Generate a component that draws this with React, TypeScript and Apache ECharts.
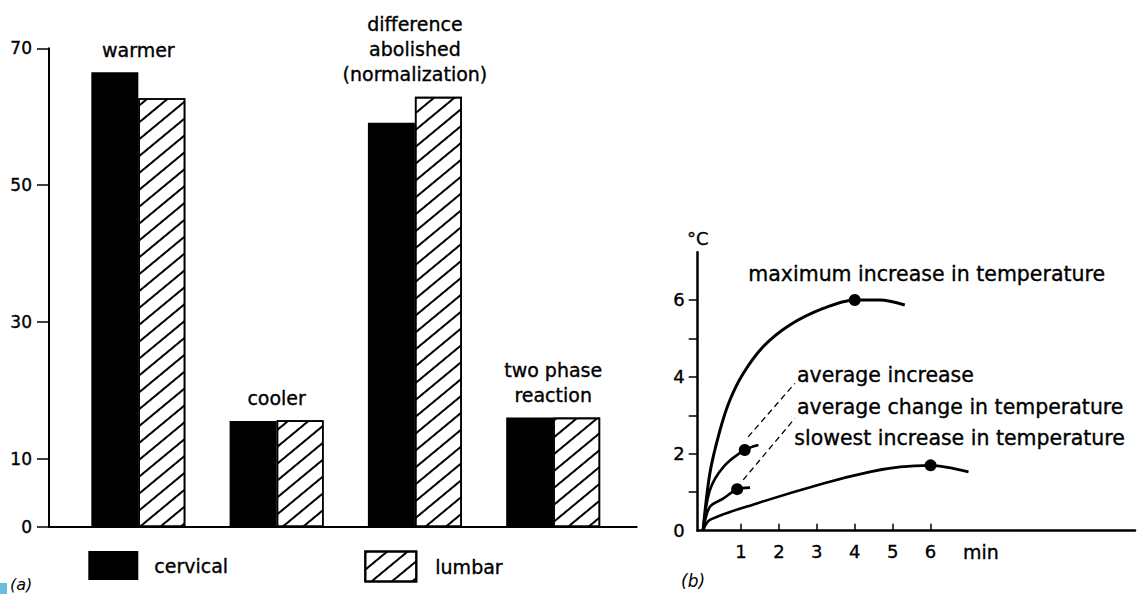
import React, { useEffect, useRef } from 'react';
import * as echarts from 'echarts';

// ---------- Panel (a) data ----------
const categories = ['warmer', 'cooler', 'difference\nabolished\n(normalization)', 'two phase\nreaction'];
const categoryPositions = [1, 2, 3, 4];
const cervical = [66.5, 15.5, 59.1, 16.0];
const lumbar = [62.7, 15.6, 62.9, 16.0];
const yTicksA = [0, 10, 30, 50, 70];

// ---------- Panel (b) data ----------
const maxIncrease = [[0, 0], [0.18, 1.49], [0.45, 2.62], [0.71, 3.4], [1.06, 4.09], [1.59, 4.79], [2.29, 5.35], [3.17, 5.78], [4, 6], [4.67, 6.0], [5.32, 5.87]];
const averageIncrease = [[0, 0], [0.18, 1.05], [0.54, 1.66], [1.1, 2.1], [1.46, 2.23]];
const averageChange = [[0, 0], [0.18, 0.62], [0.54, 0.84], [0.9, 1.08], [1.24, 1.12]];
const slowestIncrease = [[0, 0], [0.18, 0.28], [1.42, 0.71], [3.17, 1.23], [4.4, 1.53], [5.2, 1.66], [6, 1.7], [7, 1.53]];
const markedPoints = [[4, 6], [1.1, 2.1], [0.9, 1.08], [6, 1.7]];
const leaderIncrease = [[1.19, 2.44], [2.42, 3.83]];
const leaderChange = [[1.06, 1.32], [2.42, 2.92]];
const xTicksB = [1, 2, 3, 4, 5, 6];
const yTicksB = [1, 2, 3, 4, 5, 6];
const yLabelsB = [0, 2, 4, 6];

const FONT = 'DejaVu Sans';
const INK = '#000';

export default function App() {
  const ref = useRef<HTMLDivElement>(null);
  useEffect(() => {
    if (!ref.current) return;
    const chart = echarts.init(ref.current, null, { renderer: 'svg' });
    const pairTops = categoryPositions.map((_, i) => Math.max(cervical[i], lumbar[i]));
    const hatch = {
      symbol: 'rect',
      symbolSize: 1,
      dashArrayX: [20, 0],
      dashArrayY: [1.6, 11],
      rotation: -Math.PI * 0.22,
      color: INK,
      backgroundColor: '#fff',
    };
    const ink = { textBorderColor: INK, textBorderWidth: 0.35 };
    const curve = (data: number[][], width: number) => ({
      type: 'line',
      xAxisIndex: 1,
      yAxisIndex: 1,
      data,
      smooth: 0.3,
      showSymbol: false,
      symbol: 'none',
      lineStyle: { color: INK, width },
      silent: true,
    });
    const leader = (data: number[][]) => ({
      type: 'line',
      xAxisIndex: 1,
      yAxisIndex: 1,
      data,
      symbol: 'none',
      lineStyle: { color: INK, width: 1.3, type: [6, 4] },
      silent: true,
    });
    const annot = (text: string, x: number, y: number) => ({
      type: 'text',
      x,
      y,
      style: { text, fill: INK, stroke: INK, lineWidth: 0.35, font: `20.5px "${FONT}"`, verticalAlign: 'middle', align: 'left' },
    });
    chart.setOption({
      animation: false,
      backgroundColor: '#fff',
      textStyle: { fontFamily: FONT, color: INK },
      grid: [
        { left: 49, top: 48.3, width: 587.7, height: 478.7 },
        { left: 697.7, top: 252.3, width: 437.3, height: 278.4 },
      ],
      xAxis: [
        {
          type: 'value', gridIndex: 0, min: 0.354, max: 4.604,
          axisLine: { show: true, lineStyle: { color: INK, width: 2 } },
          axisTick: { show: false }, axisLabel: { show: false }, splitLine: { show: false },
        },
        {
          type: 'value', gridIndex: 1, min: -0.14, max: 11.39,
          axisLine: { show: true, lineStyle: { color: INK, width: 2.5 } },
          axisTick: { show: true, inside: true, length: 7, customValues: xTicksB, lineStyle: { color: INK, width: 1.5 } },
          axisLabel: { show: true, customValues: xTicksB, fontSize: 18, margin: 12, color: INK, fontFamily: FONT, ...ink },
          splitLine: { show: false },
        },
      ],
      yAxis: [
        {
          type: 'value', gridIndex: 0, min: 0, max: 70,
          axisLine: { show: true, onZero: false, lineStyle: { color: INK, width: 2 } },
          axisTick: { show: true, length: 12, customValues: yTicksA, lineStyle: { color: INK, width: 1.5 } },
          axisLabel: { show: true, customValues: yTicksA, fontSize: 17, margin: 17, color: INK, fontFamily: FONT, ...ink },
          splitLine: { show: false },
        },
        {
          type: 'value', gridIndex: 1, min: 0, max: 7.24,
          name: '°C', nameLocation: 'end', nameGap: 5,
          nameTextStyle: { fontSize: 18, color: INK, fontFamily: FONT, ...ink },
          axisLine: { show: true, onZero: false, lineStyle: { color: INK, width: 2.5 } },
          axisTick: { show: true, length: 9, customValues: yTicksB, lineStyle: { color: INK, width: 1.5 } },
          axisLabel: { show: true, customValues: yLabelsB, fontSize: 18, margin: 13, color: INK, fontFamily: FONT, ...ink },
          splitLine: { show: false },
        },
      ],
      legend: [
        {
          data: [{ name: 'cervical', icon: 'rect' }], left: 88.3, top: 551, padding: 0,
          itemWidth: 50, itemHeight: 29,
          textStyle: { fontSize: 19, color: INK, fontFamily: FONT, padding: [13, 0, 0, 11], ...ink },
          selectedMode: false,
        },
        {
          data: [{ name: 'lumbar', icon: 'rect' }], left: 364.3, top: 550.5, padding: 0,
          itemWidth: 51, itemHeight: 30,
          textStyle: { fontSize: 19, color: INK, fontFamily: FONT, padding: [13, 0, 0, 14], ...ink },
          selectedMode: false,
        },
      ],
      series: [
        {
          name: 'cervical', type: 'bar', xAxisIndex: 0, yAxisIndex: 0,
          data: categoryPositions.map((x, i) => [x, cervical[i]]),
          barWidth: 47, barGap: '0%',
          itemStyle: { color: INK },
          silent: true,
        },
        {
          name: 'lumbar', type: 'bar', xAxisIndex: 0, yAxisIndex: 0,
          data: categoryPositions.map((x, i) => [x, lumbar[i]]),
          barWidth: 47, barGap: '0%',
          itemStyle: { color: '#fff', borderColor: INK, borderWidth: 1.6, decal: hatch },
          silent: true,
        },
        {
          type: 'scatter', xAxisIndex: 0, yAxisIndex: 0,
          data: categoryPositions.map((x, i) => [x, pairTops[i]]),
          symbolSize: 0,
          itemStyle: { opacity: 1 },
          label: {
            show: true, position: 'top', distance: 10,
            formatter: (p: any) => categories[p.dataIndex],
            fontSize: 19, lineHeight: 25, color: INK, opacity: 1, fontFamily: FONT, align: 'center', ...ink,
          },
          silent: true,
        },
        curve(maxIncrease, 3),
        curve(averageIncrease, 2.6),
        curve(averageChange, 2.6),
        curve(slowestIncrease, 2.6),
        leader(leaderIncrease),
        leader(leaderChange),
        {
          type: 'scatter', xAxisIndex: 1, yAxisIndex: 1,
          data: markedPoints, symbolSize: 12, itemStyle: { color: INK, opacity: 1 }, silent: true,
        },
      ],
      graphic: [
        annot('maximum increase in temperature', 748.3, 274.3),
        annot('average increase', 797, 375),
        annot('average change in temperature', 797, 406.7),
        annot('slowest increase in temperature', 794.3, 438.3),
        {
          type: 'text', x: 963, y: 552,
          style: { text: 'min', fill: INK, stroke: INK, lineWidth: 0.35, font: `19px "${FONT}"`, verticalAlign: 'middle', align: 'left' },
        },
        {
          type: 'text', x: 681, y: 581,
          style: { text: '(b)', fill: INK, font: `italic 17px "${FONT}"`, verticalAlign: 'middle', align: 'left' },
        },
        {
          type: 'text', x: 10, y: 584,
          style: { text: '(a)', fill: INK, font: `italic 16px "${FONT}"`, verticalAlign: 'middle', align: 'left' },
        },
        { type: 'rect', shape: { x: 0, y: 583, width: 7, height: 11 }, style: { fill: '#67bfe0' } },
      ],
    });
    return () => chart.dispose();
  }, []);
  return (
    <div
      ref={ref}
      style={{ position: 'fixed', left: 0, top: 0, width: 1144, height: 594, background: '#fff' }}
    />
  );
}
